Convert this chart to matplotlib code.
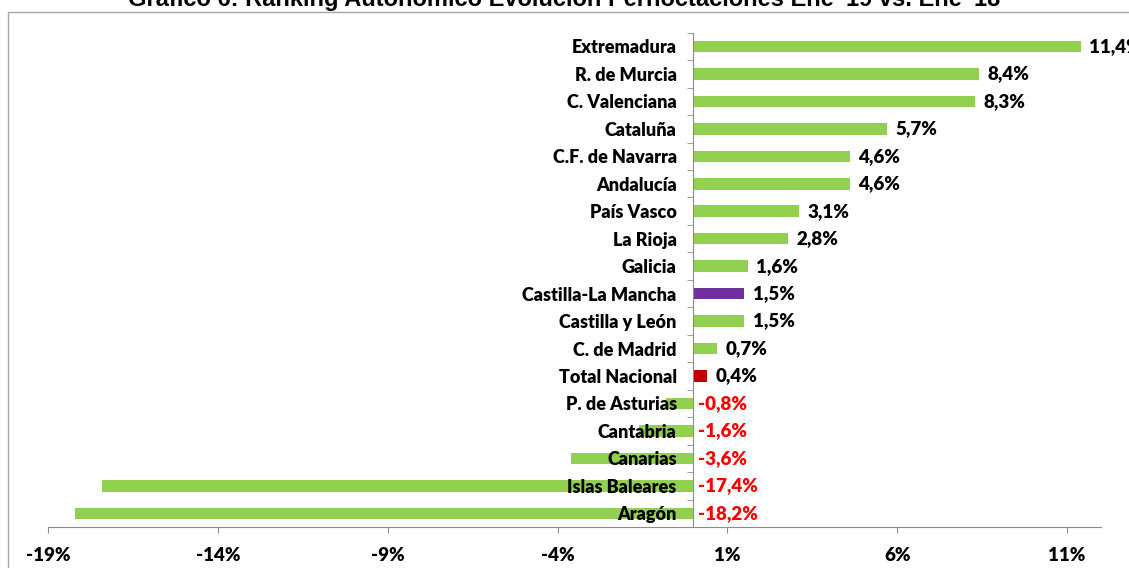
import numpy as np
import matplotlib.pyplot as plt
from matplotlib.patches import Rectangle

# Datos (de arriba a abajo)
regiones = ['Extremadura', 'R. de Murcia', 'C. Valenciana', 'Cataluña', 'C.F. de Navarra',
            'Andalucía', 'País Vasco', 'La Rioja', 'Galicia', 'Castilla-La Mancha',
            'Castilla y León', 'C. de Madrid', 'Total Nacional', 'P. de Asturias',
            'Cantabria', 'Canarias', 'Islas Baleares', 'Aragón']
variacion = [11.4, 8.4, 8.3, 5.7, 4.6, 4.6, 3.1, 2.8, 1.6, 1.5, 1.5, 0.7, 0.4,
             -0.8, -1.6, -3.6, -17.4, -18.2]
xticks = [-19, -14, -9, -4, 1, 6, 11]

verde = '#92D050'
colores = []
for r in regiones:
    if r == 'Castilla-La Mancha':
        colores.append('#7030A0')
    elif r == 'Total Nacional':
        colores.append('#C00000')
    else:
        colores.append(verde)

fuente = ['Lato', 'DejaVu Sans']
peso = 'heavy'
gris = '#8C8C8C'

fig = plt.figure(figsize=(11.29, 5.68), dpi=100)
ax = fig.add_axes([48 / 1129, 1 - 527 / 568, (1101 - 48) / 1129, (527 - 32.7) / 568])

n = len(regiones)
y = np.arange(n)[::-1]
ax.barh(y, variacion, height=0.42, color=colores, zorder=1)
ax.set_axisbelow(False)

ax.set_xlim(-19, 12)
ax.set_ylim(-0.5, n - 0.5)

# eje vertical en 0
ax.spines['left'].set_position(('data', 0))
ax.spines['left'].set_color(gris)
ax.spines['bottom'].set_color(gris)
ax.spines['top'].set_visible(False)
ax.spines['right'].set_visible(False)

ax.set_yticks(y)
ax.set_yticklabels(regiones, fontfamily=fuente, fontweight=peso, fontsize=13)
ax.tick_params(axis='y', which='major', length=0, pad=12)
ax.set_yticks(np.arange(-0.5, n, 1.0), minor=True)
ax.tick_params(axis='y', which='minor', length=4.5, color=gris, direction='out')

ax.set_xticks(xticks)
ax.set_xticklabels([f'{t}%' for t in xticks], fontfamily=fuente,
                   fontweight=peso, fontsize=13.5)
ax.tick_params(axis='x', length=4.5, color=gris, pad=10)

for yi, v in zip(y, variacion):
    txt = f'{v:.1f}%'.replace('.', ',')
    if v >= 0:
        ax.annotate(txt, (v, yi), xytext=(6, 0), textcoords='offset points',
                    va='center', ha='left', fontfamily=fuente, fontweight=peso,
                    fontsize=13.5, color='black', annotation_clip=False)
    else:
        ax.annotate(txt, (0, yi), xytext=(3, 0), textcoords='offset points',
                    va='center', ha='left', fontfamily=fuente, fontweight=peso,
                    fontsize=13.5, color='#FF0000', annotation_clip=False)

# marco del gráfico
fig.patches.append(Rectangle((8 / 1129, -0.05), 1.2, 1 - 12 / 568 + 0.05,
                             transform=fig.transFigure, fill=False,
                             edgecolor='#A6A6A6', linewidth=1))

fig.text(0.5, 1 - 6 / 568,
         "Gráfico 6: Ranking Autonómico Evolución Pernoctaciones Ene '19 vs. Ene '18",
         ha='center', va='baseline', fontfamily=['Liberation Sans', 'DejaVu Sans'],
         fontweight='bold', fontsize=17)

fig.savefig('out.png', dpi=100)
